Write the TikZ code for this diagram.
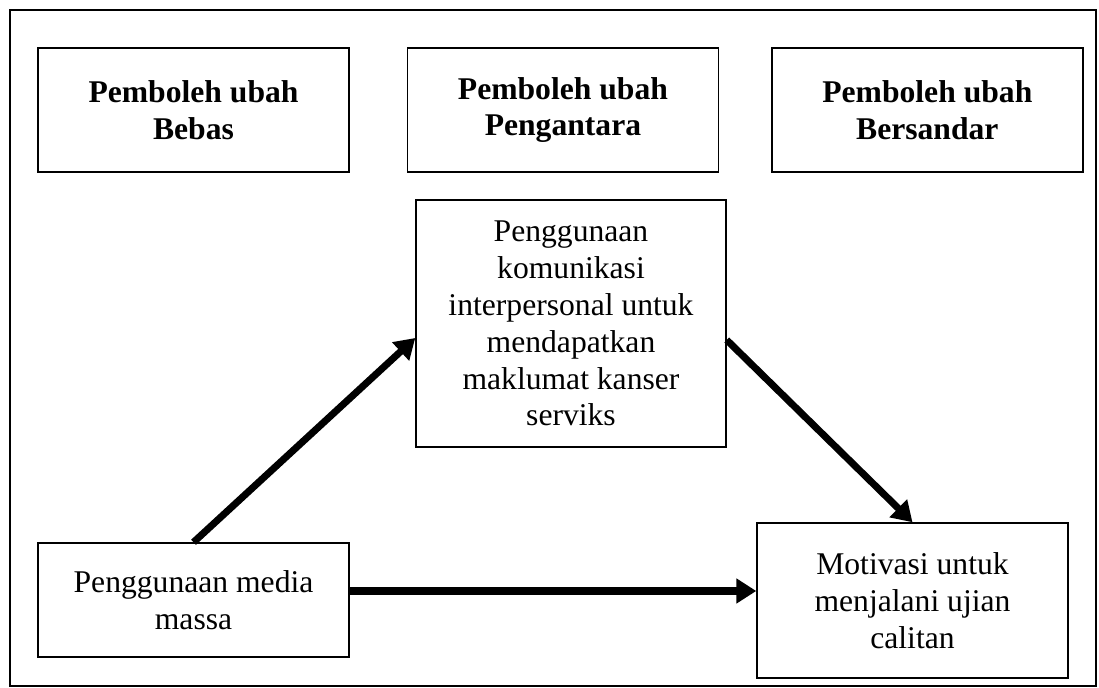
\documentclass[tikz,border=0pt]{standalone}
\usepackage{fontspec}
\setmainfont{Liberation Serif}
\usetikzlibrary{positioning}
\usetikzlibrary{arrows.meta}
\usetikzlibrary{calc}
\tikzset{varbox/.style={draw, line width=0.85pt, align=center, inner sep=0pt,
font=\fontsize{18}{21}\selectfont, minimum width=6.22cm},
headbox/.style={varbox, font=\fontsize{18}{21}\selectfont\bfseries, minimum height=2.48cm},
bigarrow/.style={line width=4pt, -{Triangle[length=0.4cm, width=0.48cm]}}}

\begin{document}
\begin{tikzpicture}[x=0.02cm, y=-0.02cm]
	\useasboundingbox (0,0) rectangle (1099,688);
	\draw[line width=0.85pt] (10,10) rectangle (1096,686);
	\node[headbox] (bebas) at (193.5,110) {Pemboleh ubah\\Bebas};
	\node[headbox, right=1.14cm of bebas] (antara) {Pemboleh ubah\\Pengantara};
	\node[headbox, right=1.04cm of antara] (sandar) {Pemboleh ubah\\Bersandar};
	\node[varbox, minimum width=6.2cm, minimum height=4.94cm] (kom) at (571,323.5)
		{Penggunaan\\komunikasi\\interpersonal untuk\\mendapatkan\\maklumat kanser\\serviks};
	\node[varbox, minimum height=2.28cm] (massa) at (193.5,600) {Penggunaan media\\massa};
	\node[varbox, minimum height=3.1cm] (motiv) at (912.5,600.5)
		{Motivasi untuk\\menjalani ujian\\calitan};
	\draw[bigarrow] (massa.north) -- ($(kom.west)+(0,14.5)$);
	\draw[bigarrow] ($(kom.east)+(0,16.5)$) -- (motiv.north);
	\draw[bigarrow] ($(massa.east)+(0,-9)$) -- ($(motiv.west)+(0,-9.5)$);
\end{tikzpicture}
\end{document}
